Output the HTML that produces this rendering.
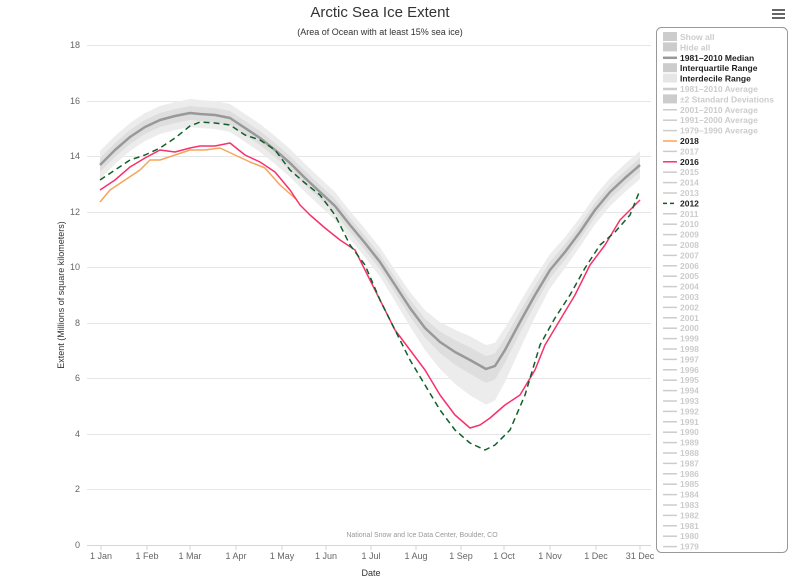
<!DOCTYPE html>
<html><head><meta charset="utf-8"><style>
body{margin:0;background:#fff;width:809px;height:583px;overflow:hidden;font-family:"Liberation Sans",sans-serif}
svg{display:block}
</style></head><body>
<svg id="s" width="809" height="583" xmlns="http://www.w3.org/2000/svg" font-family="Liberation Sans, sans-serif">
<text x="380" y="17" font-size="15" text-anchor="middle" fill="#333">Arctic Sea Ice Extent</text>
<text x="380" y="35" font-size="9" text-anchor="middle" fill="#333">(Area of Ocean with at least 15% sea ice)</text>
<g stroke="#e6e6e6" stroke-width="1">
<line x1="87" x2="651" y1="45.5" y2="45.5"/><line x1="87" x2="651" y1="101.5" y2="101.5"/><line x1="87" x2="651" y1="156.5" y2="156.5"/><line x1="87" x2="651" y1="212.5" y2="212.5"/><line x1="87" x2="651" y1="267.5" y2="267.5"/><line x1="87" x2="651" y1="323.5" y2="323.5"/><line x1="87" x2="651" y1="378.5" y2="378.5"/><line x1="87" x2="651" y1="434.5" y2="434.5"/><line x1="87" x2="651" y1="489.5" y2="489.5"/>
</g>
<line x1="87" x2="651" y1="545.5" y2="545.5" stroke="#ccd6eb"/>
<g font-size="9" fill="#666" text-anchor="end">
<text x="80" y="48">18</text><text x="80" y="104">16</text><text x="80" y="159">14</text><text x="80" y="215">12</text><text x="80" y="270">10</text><text x="80" y="326">8</text><text x="80" y="381">6</text><text x="80" y="437">4</text><text x="80" y="492">2</text><text x="80" y="548">0</text>
</g>
<text transform="translate(64,295) rotate(-90)" font-size="9" fill="#333" text-anchor="middle">Extent (Millions of square kilometers)</text>
<g id="xt" font-size="9" fill="#666" text-anchor="middle"></g>
<text x="371" y="576" font-size="9" fill="#333" text-anchor="middle">Date</text>
<text x="422" y="537" font-size="7" fill="#999" text-anchor="middle">National Snow and Ice Data Center, Boulder, CO</text>
<g id="plot"></g>
<rect x="656.5" y="27.5" width="131" height="525" rx="5" fill="#fff" stroke="#999"/>
<g id="leg" font-size="8.5" font-weight="bold"></g>
<g fill="#666"><rect x="772" y="9" width="13" height="2"/><rect x="772" y="13" width="13" height="2"/><rect x="772" y="17" width="13" height="2"/></g>
</svg>
<script>
const NS="http://www.w3.org/2000/svg";
function el(p,t,a,txt){const e=document.createElementNS(NS,t);for(const k in a)e.setAttribute(k,a[k]);if(txt)e.textContent=txt;p.appendChild(e);return e;}
const xt=document.getElementById('xt');
[[101,'1 Jan'],[147,'1 Feb'],[190,'1 Mar'],[236,'1 Apr'],[282,'1 May'],[326,'1 Jun'],[371,'1 Jul'],[416,'1 Aug'],[461,'1 Sep'],[504,'1 Oct'],[550,'1 Nov'],[596,'1 Dec'],[640,'31 Dec']].forEach(([x,l])=>{el(xt,'text',{x:x,y:559},l);el(xt,'line',{x1:x,x2:x,y1:545,y2:550,stroke:'#ccd6eb'});});
const med=[[100,165],[115,150],[130,137],[145,127],[160,120],[175,116],[190,113],[200,114],[215,115],[230,118],[245,128],[260,138],[275,150],[290,163],[305,178],[320,192],[335,206],[350,225],[365,243],[380,262],[395,285],[410,308],[425,328],[440,342],[455,352],[470,360],[486,369],[495,366],[505,350],[520,322],[535,295],[550,270],[565,252],[580,232],[595,210],[610,192],[625,178],[640,165]];
const bump=x=>Math.exp(-Math.pow((x-480)/55,2));
function band(a,b){const up=med.map(([x,y])=>[x,y-a(x)]),dn=med.map(([x,y])=>[x,y+b(x)]).reverse();return 'M'+up.concat(dn).map(p=>p[0]+','+p[1].toFixed(1)).join('L')+'Z';}
const plot=document.getElementById('plot');
el(plot,'path',{d:band(x=>14+10*bump(x),x=>14+22*bump(x)),fill:'#ececec'});
el(plot,'path',{d:band(x=>7+6*bump(x),x=>7+7*bump(x)),fill:'#dedede'});
const line=(pts,c,w,extra)=>el(plot,'path',Object.assign({d:'M'+pts.map(p=>p.join(',')).join('L'),fill:'none',stroke:c,'stroke-width':w,'stroke-linejoin':'round'},extra||{}));
line(med,'#999',2.5);
line([[100,202],[110,190],[125,180],[140,170],[150,160],[160,160],[175,155],[190,150],[205,150],[220,148],[235,155],[250,162],[265,168],[280,185],[297,200]],'#f7a35c',1.5);
line([[100,190],[115,180],[130,167],[145,158],[160,150],[175,152],[190,148],[200,146],[215,146],[230,143],[245,155],[260,162],[275,172],[290,190],[300,205],[310,215],[325,228],[340,240],[355,250],[365,270],[380,300],[395,330],[410,350],[425,370],[440,395],[455,415],[470,428],[480,425],[490,418],[505,405],[520,395],[535,370],[545,345],[560,320],[575,295],[590,265],[605,245],[620,220],[630,210],[640,200]],'#f7316c',1.5);
line([[100,180],[115,170],[130,160],[145,155],[160,148],[175,138],[190,126],[200,122],[215,123],[230,125],[245,135],[260,140],[275,150],[290,170],[305,183],[320,195],[335,215],[350,245],[365,265],[380,300],[395,330],[410,360],[425,385],[440,410],[455,430],[470,443],[485,450],[495,445],[510,430],[525,395],[540,345],[555,318],[570,295],[585,268],[600,245],[615,232],[630,215],[640,190]],'#105f2a',1.5,{'stroke-dasharray':'6,4'});
const leg=document.getElementById('leg');
const items=[['Show all','box','#ccc','#ccc'],['Hide all','box','#ccc','#ccc'],['1981–2010 Median','line','#999','#222'],['Interquartile Range','box','#ccc','#222'],['Interdecile Range','box','#e6e6e6','#222'],['1981–2010 Average','line','#ccc','#ccc'],['±2 Standard Deviations','box','#ccc','#ccc'],['2001–2010 Average','thin','#ccc','#ccc'],['1991–2000 Average','thin','#ccc','#ccc'],['1979–1990 Average','thin','#ccc','#ccc']];
for(let y=2018;y>=1979;y--){let c='#ccc',t='#ccc',k='thin';if(y==2018){c='#f7a35c';t='#222';}if(y==2016){c='#f7316c';t='#222';}if(y==2012){c='#105f2a';t='#222';k='dash';}items.push([String(y),k,c,t]);}
items.forEach((it,i)=>{const y=37+i*10.4;
if(it[1]=='box')el(leg,'rect',{x:663,y:y-5,width:14,height:9,fill:it[2]});
else el(leg,'line',{x1:663,x2:677,y1:y,y2:y,stroke:it[2],'stroke-width':it[1]=='line'?2.5:1.5,'stroke-dasharray':it[1]=='dash'?'4,3':'none'});
el(leg,'text',{x:680,y:y+3,fill:it[3]},it[0]);});
</script>
</body></html>
